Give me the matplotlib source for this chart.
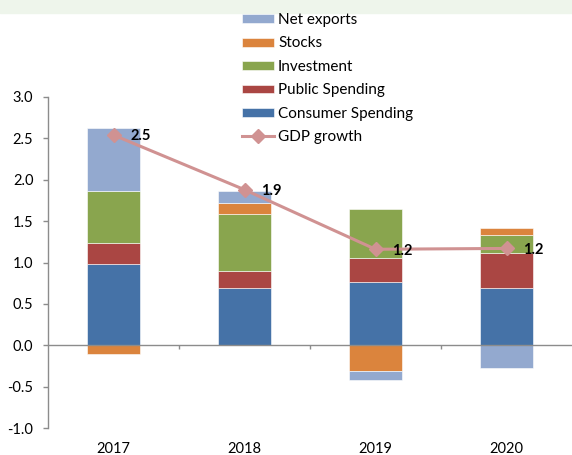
import matplotlib
matplotlib.use('Agg')
import matplotlib.pyplot as plt
import numpy as np
from matplotlib.patches import Rectangle

# contributions to GDP growth, percentage points
YEARS = ['2017', '2018', '2019', '2020']
CONSUMER = [0.98, 0.69, 0.76, 0.69]
PUBLIC = [0.26, 0.21, 0.30, 0.42]
INVESTMENT = [0.63, 0.69, 0.59, 0.22]
STOCKS = [-0.10, 0.13, -0.31, 0.09]
NET_EXPORTS = [0.76, 0.15, -0.11, -0.27]
GDP = [2.54, 1.88, 1.16, 1.17]

SERIES = [
    ('Consumer Spending', CONSUMER, '#4572a7'),
    ('Public Spending', PUBLIC, '#aa4643'),
    ('Investment', INVESTMENT, '#89a54e'),
    ('Stocks', STOCKS, '#db843d'),
    ('Net exports', NET_EXPORTS, '#93a9cf'),
]
LINE_COLOR = '#d09292'
AXIS_GRAY = '#8c8c8c'

plt.rcParams['font.family'] = ['Lato', 'DejaVu Sans']
plt.rcParams['font.size'] = 10.5

fig = plt.figure(figsize=(5.72, 4.55), dpi=100)
fig.patches.append(Rectangle((0, 1 - 13 / 455), 1, 13 / 455,
                             transform=fig.transFigure, color='#eef5eb',
                             zorder=0))
ax = fig.add_axes([48 / 572, 27 / 455, 1 - 48 / 572, 331 / 455])

x = np.arange(len(YEARS))
pos_base = np.zeros(len(YEARS))
neg_base = np.zeros(len(YEARS))
handles = {}
for name, vals, color in SERIES:
    vals = np.array(vals)
    bottom = np.where(vals >= 0, pos_base, neg_base)
    bars = ax.bar(x, vals, 0.40, bottom=bottom, color=color,
                  edgecolor='white', linewidth=0.4, zorder=2)
    handles[name] = bars
    pos_base += np.clip(vals, 0, None)
    neg_base += np.clip(vals, None, 0)

line, = ax.plot(x, GDP, color=LINE_COLOR, linewidth=2.2, marker='D',
                markersize=7, zorder=4, label='GDP growth')
for xi, g in zip(x, GDP):
    ax.annotate(f'{g:.1f}', (xi, g), xytext=(12, -1),
                textcoords='offset points', ha='left', va='center',
                fontweight='bold', fontsize=10.5, zorder=5)

# zero line with category separators
ax.axhline(0, color=AXIS_GRAY, linewidth=1, zorder=3)
bounds = np.arange(len(YEARS) + 1) - 0.5
ax.vlines(bounds[1:-1], -0.05, 0, color=AXIS_GRAY, linewidth=1, zorder=3)

ax.set_xlim(-0.5, len(YEARS) - 0.5)
ax.set_ylim(-1.0, 3.0)
ax.set_yticks(np.arange(-1.0, 3.01, 0.5))
ax.set_yticklabels([f'{v:.1f}' for v in np.arange(-1.0, 3.01, 0.5)])
ax.set_xticks(x)
ax.set_xticklabels(YEARS)
ax.tick_params(axis='x', length=0, pad=10)
ax.tick_params(axis='y', length=3.5, width=1, color=AXIS_GRAY, pad=7)
for side in ('top', 'right', 'bottom'):
    ax.spines[side].set_visible(False)
ax.spines['left'].set_color(AXIS_GRAY)
ax.spines['left'].set_linewidth(1)

order = ['Net exports', 'Stocks', 'Investment', 'Public Spending',
         'Consumer Spending']
leg = fig.legend([handles[n] for n in order] + [line], order + ['GDP growth'],
                 loc='upper left', bbox_to_anchor=(242 / 572, 1 - 13 / 455),
                 frameon=False, borderpad=0, borderaxespad=0,
                 handlelength=2.1, handleheight=0.52, handletextpad=0.26,
                 labelspacing=0.62, fontsize=11)

fig.savefig('out.png', dpi=100)
